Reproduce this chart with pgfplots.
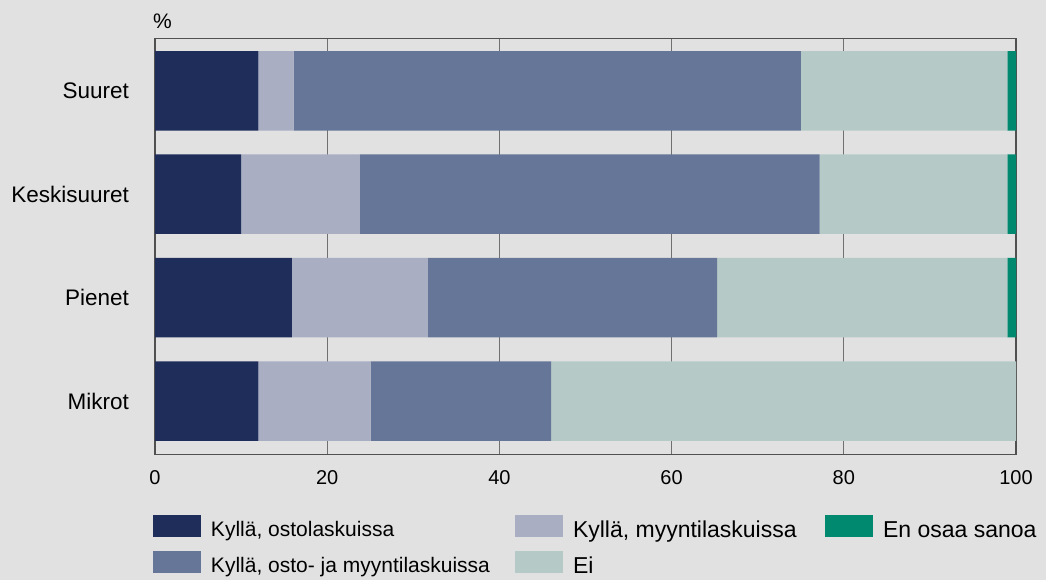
\documentclass[border=0pt]{standalone}
\usepackage{fontspec}
\setmainfont{Liberation Sans}
\usepackage{pgfplots}
\pgfplotsset{compat=1.18}
\definecolor{bgc}{HTML}{E1E1E1}
\definecolor{c1}{HTML}{1E2D5A}
\definecolor{c2}{HTML}{A9AEC3}
\definecolor{c3}{HTML}{667699}
\definecolor{c4}{HTML}{B5CAC7}
\definecolor{c5}{HTML}{00896E}
\definecolor{gridc}{HTML}{707070}
\definecolor{axisc}{HTML}{505050}
\pgfplotsset{boxleg/.style={legend image code/.code={\fill[##1] (0pt,-7pt) rectangle (48pt,15pt);}}}
\begin{document}
\begin{tikzpicture}[x=1pt,y=1pt]
\fill[bgc] (0,0) rectangle (1046,-580);
\useasboundingbox (0,0) rectangle (1046,-580);
\begin{axis}[
  at={(155pt,-454.3pt)}, anchor=south west,
  scale only axis, width=861pt, height=415.6pt,
  clip=false,
  xbar stacked, bar width=79.5pt,
  xmin=0, xmax=100, ymin=-0.515, ymax=3.504,
  xtick={0,20,40,60,80,100},
  ytick={0,1,2,3}, yticklabels={Mikrot,Pienet,Keskisuuret,Suuret},
  major tick length=0pt,
  xmajorgrids, grid style={color=gridc, line width=1.1pt},
  axis line style={color=axisc, line width=1.3pt},
  /pgf/number format/assume math mode=true,
  xticklabel style={font=\fontsize{20}{24}\selectfont, yshift=-13pt},
  yticklabel style={font=\fontsize{22.5}{27}\selectfont, xshift=-22.5pt},
  legend columns=3,
  legend cell align=left,
  legend style={at={(axis description cs:0,0)}, anchor=north west, xshift=-2pt, yshift=-60.7pt,
    draw=none, fill=none, inner sep=0pt, outer sep=0pt,
    nodes={inner sep=0pt, outer sep=0pt},
    /tikz/every odd column/.style={column sep=10pt},
    /tikz/every even column/.style={column sep=24pt},
    /tikz/row sep=12pt},
]
\addlegendimage{fill=c1,draw=none,boxleg}
\addlegendentry{\fontsize{21}{25}\selectfont\makebox[280pt][l]{Kyllä, ostolaskuissa}}
\addlegendimage{fill=c2,draw=none,boxleg}
\addlegendentry{\fontsize{23}{27}\selectfont\makebox[228pt][l]{Kyllä, myyntilaskuissa}}
\addlegendimage{fill=c5,draw=none,boxleg}
\addlegendentry{\fontsize{23}{27}\selectfont En osaa sanoa}
\addlegendimage{fill=c3,draw=none,boxleg}
\addlegendentry{\fontsize{21}{25}\selectfont\makebox[280pt][l]{Kyllä, osto- ja myyntilaskuissa}}
\addlegendimage{fill=c4,draw=none,boxleg}
\addlegendentry{\fontsize{23}{27}\selectfont\makebox[228pt][l]{Ei}}

\addplot[fill=c1, draw=none] coordinates {(12.0,0) (15.9,1) (10.0,2) (12.0,3)};
\addplot[fill=c2, draw=none] coordinates {(13.05,0) (15.8,1) (13.8,2) (4.1,3)};
\addplot[fill=c3, draw=none] coordinates {(20.95,0) (33.6,1) (53.4,2) (58.9,3)};
\addplot[fill=c4, draw=none] coordinates {(54.0,0) (33.7,1) (21.8,2) (24.0,3)};
\addplot[fill=c5, draw=none] coordinates {(0,0) (1.0,1) (1.0,2) (1.0,3)};

\node[anchor=base west, inner sep=0pt, font=\fontsize{21}{25}\selectfont, xshift=-2pt, yshift=9.7pt] at (axis description cs:0,1) {\%};
\end{axis}
\end{tikzpicture}
\end{document}
